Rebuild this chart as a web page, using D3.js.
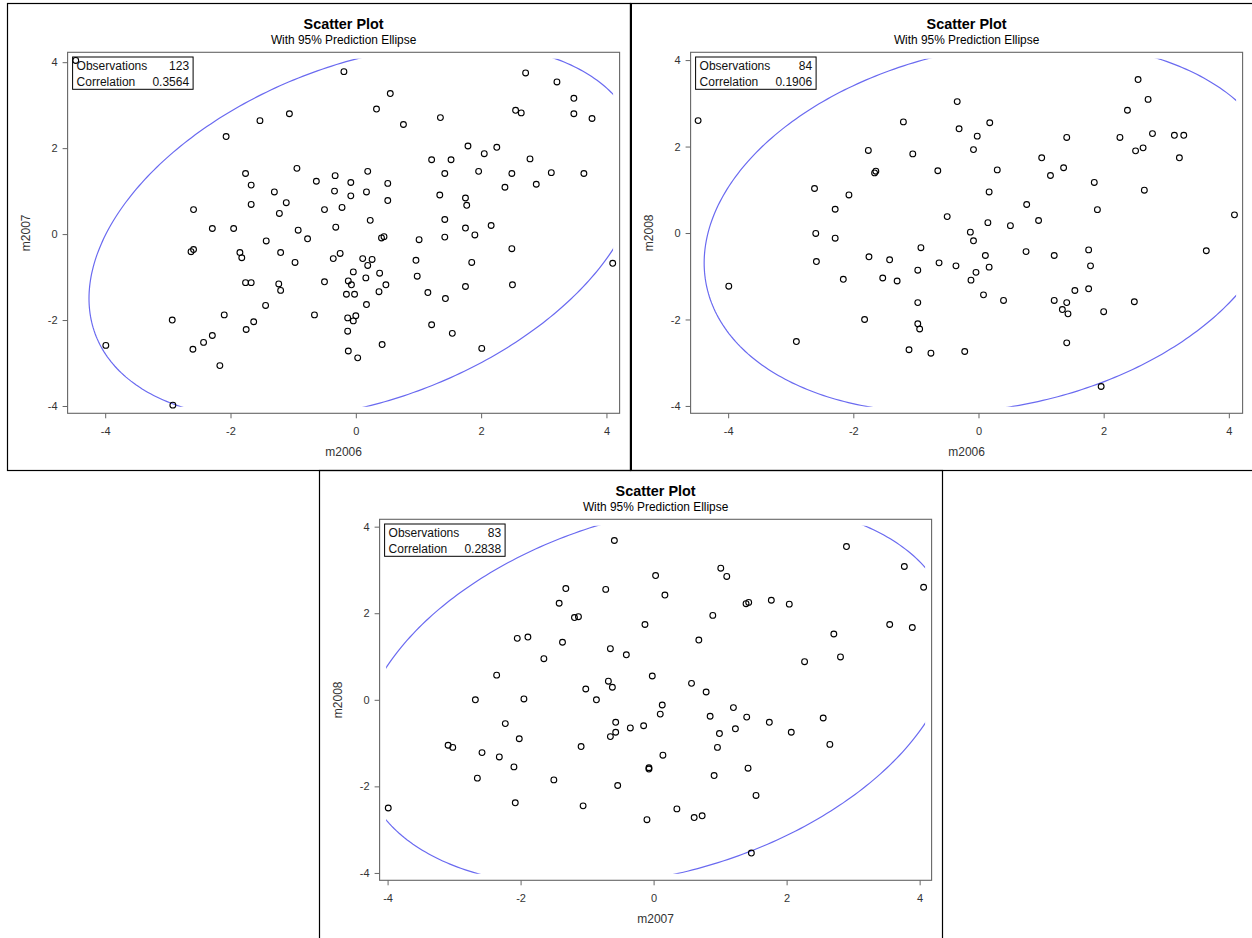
<!DOCTYPE html>
<html>
<head>
<meta charset="utf-8">
<script src="https://cdn.jsdelivr.net/npm/d3@7"></script>
<style>
  body { margin: 0; background: #fff; }
  svg { display: block; }
  text { font-family: "Liberation Sans", Arial, sans-serif; }
</style>
</head>
<body>
<svg id="chart" width="1252" height="938"></svg>
<script>
// Observation pairs for each scatter plot: [x, y]
const obs2006vs2007 = [
  [-4.47,4.04],[-1.06,2.80],[-1.53,2.64],[-2.07,2.27],[-0.94,1.53],[-1.76,1.41],[-0.33,1.36],[-0.63,1.23],
  [-1.67,1.14],[-1.30,0.98],[-0.34,1.00],[-1.11,0.73],[-1.67,0.69],[-2.59,0.57],[-0.50,0.57],[-1.22,0.48],
  [-2.29,0.13],[-1.95,0.13],[-0.32,0.16],[-0.92,0.09],[-0.77,-0.11],[-1.43,-0.16],[-2.63,-0.41],[-2.59,-0.36],
  [-1.85,-0.43],[-1.82,-0.55],[-1.20,-0.43],[-0.97,-0.66],[-0.36,-0.57],[-1.76,-1.13],[-1.67,-1.13],[-1.23,-1.16],
  [-1.20,-1.31],[-0.50,-1.11],[-1.44,-1.66],[-2.93,-2.00],[-2.10,-1.88],[-0.66,-1.88],[-1.63,-2.04],[-1.75,-2.22],
  [-3.99,-2.59],[-2.29,-2.36],[-2.43,-2.52],[-2.60,-2.68],[-2.17,-3.06],[-2.92,-3.98],
  [-0.19,3.78],[0.55,3.27],[0.33,2.91],[0.76,2.55],[1.35,2.71],[2.71,3.75],[3.21,3.54],[3.48,3.16],
  [2.55,2.88],[2.64,2.82],[3.48,2.80],[3.77,2.69],[1.79,2.05],[2.25,2.02],[2.05,1.87],[1.21,1.73],
  [1.52,1.73],[2.78,1.75],[0.19,1.46],[1.42,1.41],[1.96,1.46],[2.49,1.41],[3.12,1.43],[3.64,1.41],
  [-0.08,1.20],[0.51,1.18],[2.38,1.09],[2.88,1.16],[-0.08,0.89],[0.17,0.98],[1.34,0.91],[1.75,0.84],
  [1.77,0.67],[0.51,0.78],[-0.22,0.62],[0.23,0.32],[1.42,0.34],[2.16,0.20],[1.75,0.14],[1.90,-0.02],
  [0.41,-0.09],[0.45,-0.06],[1.01,-0.13],[1.42,-0.07],[2.49,-0.34],[4.10,-0.68],[-0.25,-0.45],[0.11,-0.57],
  [0.26,-0.59],[0.19,-0.73],[-0.04,-0.88],[0.96,-0.61],[1.85,-0.66],[-0.12,-1.09],[-0.07,-1.18],[0.16,-1.02],
  [0.38,-0.91],[0.98,-0.98],[0.48,-1.18],[0.37,-1.34],[-0.15,-1.40],[-0.02,-1.40],[1.15,-1.36],[1.75,-1.22],
  [2.50,-1.18],[1.43,-1.50],[0.17,-1.64],[-0.13,-1.95],[0.00,-1.90],[-0.04,-2.02],[-0.13,-2.26],[1.21,-2.11],
  [1.54,-2.31],[0.42,-2.57],[-0.12,-2.72],[0.03,-2.88],[2.01,-2.66]
];

const obs2006vs2008 = [
  [-4.48,2.60],[-3.99,-1.23],[-2.91,-2.51],[-1.20,2.57],[-1.76,1.91],[-1.05,1.83],[-1.66,1.39],[-1.64,1.43],
  [-0.65,1.44],[-2.62,1.03],[-2.07,0.88],[-2.29,0.55],[-2.60,-0.01],[-2.29,-0.12],[-2.59,-0.66],[-1.75,-0.55],
  [-1.42,-0.62],[-0.92,-0.34],[-0.63,-0.69],[-0.97,-0.86],[-2.16,-1.07],[-1.53,-1.04],[-1.30,-1.11],[-0.97,-1.61],
  [-1.82,-2.00],[-0.97,-2.10],[-0.94,-2.22],[-1.11,-2.70],[-0.76,-2.78],
  [-0.34,3.04],[-0.31,2.41],[0.18,2.55],[-0.02,2.24],[-0.08,1.93],[1.41,2.21],[1.01,1.74],[0.30,1.46],
  [1.36,1.51],[1.15,1.33],[1.85,1.17],[0.17,0.95],[0.77,0.66],[1.90,0.54],[-0.50,0.38],[0.15,0.24],
  [0.51,0.17],[0.96,0.29],[-0.13,0.02],[-0.08,-0.18],[0.11,-0.52],[0.76,-0.43],[1.21,-0.52],[1.76,-0.39],
  [-0.36,-0.76],[0.17,-0.79],[1.79,-0.76],[-0.04,-0.91],[-0.12,-1.09],[0.08,-1.43],[0.40,-1.56],[1.54,-1.33],
  [1.76,-1.29],[1.21,-1.56],[1.41,-1.61],[1.34,-1.77],[1.43,-1.87],[2.00,-1.82],[2.49,-1.59],[1.41,-2.54],
  [-0.22,-2.74],[1.96,-3.55],[2.55,3.55],[2.71,3.09],[2.38,2.84],[2.26,2.21],[2.78,2.30],[3.13,2.26],
  [3.28,2.26],[2.51,1.90],[2.63,1.97],[3.21,1.74],[2.65,0.99],[4.09,0.42],[3.64,-0.41]
];

const obs2007vs2008 = [
  [-3.99,-2.50],[-0.59,3.68],[-1.32,2.57],[-0.72,2.55],[-1.42,2.23],[-1.19,1.90],[-1.13,1.92],[-2.05,1.42],
  [-1.89,1.45],[-1.37,1.33],[-0.65,1.18],[-0.41,1.04],[-1.65,0.95],[-2.36,0.57],[-0.68,0.43],[-0.62,0.29],
  [-1.02,0.25],[-2.68,0.00],[-1.95,0.02],[-0.86,0.00],[-2.23,-0.55],[-0.57,-0.52],[-0.57,-0.75],[-0.65,-0.85],
  [-0.35,-0.65],[-3.09,-1.05],[-3.02,-1.10],[-2.58,-1.22],[-2.02,-0.90],[-1.09,-1.08],[-2.32,-1.32],[-2.10,-1.55],
  [-2.65,-1.81],[-1.50,-1.85],[-0.54,-1.98],[-2.08,-2.38],[-1.06,-2.45],
  [2.90,3.54],[3.77,3.08],[4.06,2.60],[1.01,3.04],[1.10,2.85],[0.03,2.87],[0.17,2.42],[1.39,2.22],
  [1.43,2.25],[1.77,2.30],[2.04,2.21],[0.89,1.95],[-0.13,1.74],[0.68,1.38],[3.55,1.74],[3.89,1.67],
  [2.71,1.52],[2.81,0.99],[2.27,0.88],[-0.02,0.55],[0.57,0.38],[0.79,0.18],[0.13,-0.12],[0.10,-0.33],
  [1.20,-0.18],[0.85,-0.38],[1.40,-0.40],[-0.15,-0.60],[1.23,-0.67],[2.55,-0.42],[1.74,-0.52],[0.99,-0.78],
  [2.07,-0.75],[0.96,-1.10],[2.65,-1.03],[0.14,-1.28],[-0.07,-1.57],[-0.07,-1.60],[1.42,-1.58],[0.91,-1.75],
  [1.54,-2.21],[0.35,-2.52],[0.61,-2.72],[0.73,-2.68],[-0.10,-2.77],[1.47,-3.54]
];

const correlations = [0.3564, 0.1906, 0.2838];
const xVarNames = ["m2006", "m2006", "m2007"];
const yVarNames = ["m2007", "m2008", "m2008"];
const tickValues = [-4, -2, 0, 2, 4];
const xDomains = [[-4.60, 4.21], [-4.60, 4.22], [-4.12, 4.18]];
const yDomains = [[-4.17, 4.23], [-4.17, 4.18], [-4.17, 4.17]];
const titleText = "Scatter Plot";
const subtitleText = "With 95% Prediction Ellipse";
const alpha = 0.05;

// Page layout
const framePos = [[7, 3], [630, 3], [319, 470]];
const FRAME_W = 623, FRAME_H = 467;
const PAD_L = 60.6, PAD_T = 49.3, PLOT_W = 552, PLOT_H = 361;
const CURVE_INSET = 6.5;
const ELLIPSE_COLOR = "#6a6af0";

const datasets = [obs2006vs2007, obs2006vs2008, obs2007vs2008];
const svg = d3.select("#chart");

// 95% prediction ellipse for a new observation (bivariate normal, F-based scaling)
function predictionEllipse(pts, r) {
  const n = pts.length;
  const mx = d3.mean(pts, d => d[0]), my = d3.mean(pts, d => d[1]);
  const sx = d3.deviation(pts, d => d[0]), sy = d3.deviation(pts, d => d[1]);
  const df2 = n - 2;
  const fq = df2 / 2 * (Math.pow(alpha, -2 / df2) - 1);
  const c = Math.sqrt(2 * (n + 1) * (n - 1) / (n * (n - 2)) * fq);
  const l11 = sx, l21 = r * sy, l22 = sy * Math.sqrt(1 - r * r);
  return d3.range(0, 361).map(a => {
    const t = a * Math.PI / 180, u = Math.cos(t), v = Math.sin(t);
    return [mx + c * l11 * u, my + c * (l21 * u + l22 * v)];
  });
}

datasets.forEach((pts, i) => {
  const [fx, fy] = framePos[i];
  const g = svg.append("g").attr("transform", `translate(${fx},${fy})`);

  // outer frame
  g.append("rect")
    .attr("x", 0.5).attr("y", 0.5)
    .attr("width", FRAME_W).attr("height", i === 2 ? FRAME_H + 4 : FRAME_H)
    .attr("fill", "none").attr("stroke", "#000").attr("stroke-width", 1.2);

  const left = PAD_L, top = PAD_T;
  const x = d3.scaleLinear().domain(xDomains[i]).range([left, left + PLOT_W]);
  const y = d3.scaleLinear().domain(yDomains[i]).range([top + PLOT_H, top]);
  const cx = left + PLOT_W / 2;

  // titles
  g.append("text").attr("x", cx).attr("y", 26)
    .attr("text-anchor", "middle").attr("font-size", 14.4).attr("font-weight", "bold")
    .attr("fill", "#000").text(titleText);
  g.append("text").attr("x", cx).attr("y", 41)
    .attr("text-anchor", "middle").attr("font-size", 11.9)
    .attr("fill", "#000").text(subtitleText);

  // axes
  const xAxis = d3.axisBottom(x).tickValues(tickValues).tickSize(5).tickPadding(9)
    .tickFormat(d => String(d));
  const yAxis = d3.axisLeft(y).tickValues(tickValues).tickSize(5).tickPadding(5)
    .tickFormat(d => String(d));
  const gx = g.append("g").attr("transform", `translate(0,${top + PLOT_H})`).call(xAxis);
  const gy = g.append("g").attr("transform", `translate(${left},0)`).call(yAxis);
  [gx, gy].forEach(a => {
    a.select(".domain").remove();
    a.selectAll(".tick line").attr("stroke", "#666");
    a.selectAll(".tick text").attr("fill", "#333").attr("font-size", 11)
      .attr("font-family", "'Liberation Sans', Arial, sans-serif");
  });

  // axis labels
  g.append("text").attr("x", cx).attr("y", top + PLOT_H + 43)
    .attr("text-anchor", "middle").attr("font-size", 12).attr("fill", "#333")
    .text(xVarNames[i]);
  g.append("text")
    .attr("transform", `translate(${left - 37.5},${top + PLOT_H / 2}) rotate(-90)`)
    .attr("text-anchor", "middle").attr("font-size", 12).attr("fill", "#333")
    .text(yVarNames[i]);

  // ellipse, clipped to the inner data region
  const clipId = `clip-${i}`;
  g.append("clipPath").attr("id", clipId).append("rect")
    .attr("x", left + CURVE_INSET).attr("y", top + CURVE_INSET)
    .attr("width", PLOT_W - 2 * CURVE_INSET).attr("height", PLOT_H - 2 * CURVE_INSET);
  const line = d3.line().x(d => x(d[0])).y(d => y(d[1])).curve(d3.curveLinearClosed);
  g.append("path")
    .attr("clip-path", `url(#${clipId})`)
    .attr("d", line(predictionEllipse(pts, correlations[i])))
    .attr("fill", "none").attr("stroke", ELLIPSE_COLOR).attr("stroke-width", 1.2);

  // markers
  g.append("g").selectAll("circle").data(pts).join("circle")
    .attr("cx", d => x(d[0])).attr("cy", d => y(d[1])).attr("r", 2.9)
    .attr("fill", "none").attr("stroke", "#000").attr("stroke-width", 1.1);

  // plot area frame
  g.append("rect").attr("x", left).attr("y", top).attr("width", PLOT_W).attr("height", PLOT_H)
    .attr("fill", "none").attr("stroke", "#666").attr("stroke-width", 1.1);

  // statistics inset
  const bx = left + 5, by = top + 4.7, bw = 120.5, bh = 32.3;
  const inset = g.append("g");
  inset.append("rect").attr("x", bx).attr("y", by).attr("width", bw).attr("height", bh)
    .attr("fill", "none").attr("stroke", "#000").attr("stroke-width", 1);
  const rows = [["Observations", String(pts.length)], ["Correlation", correlations[i].toFixed(4)]];
  rows.forEach((row, k) => {
    const ty = by + 13.3 + k * 15.6;
    inset.append("text").attr("x", bx + 4).attr("y", ty).attr("font-size", 12)
      .attr("fill", "#111").text(row[0]);
    inset.append("text").attr("x", bx + bw - 4).attr("y", ty).attr("font-size", 12)
      .attr("text-anchor", "end").attr("fill", "#111").text(row[1]);
  });
});

// heavier divider where the two upper panels meet
svg.append("line").attr("x1", 631).attr("x2", 631).attr("y1", 3).attr("y2", 471)
  .attr("stroke", "#000").attr("stroke-width", 2);
</script>
</body>
</html>
